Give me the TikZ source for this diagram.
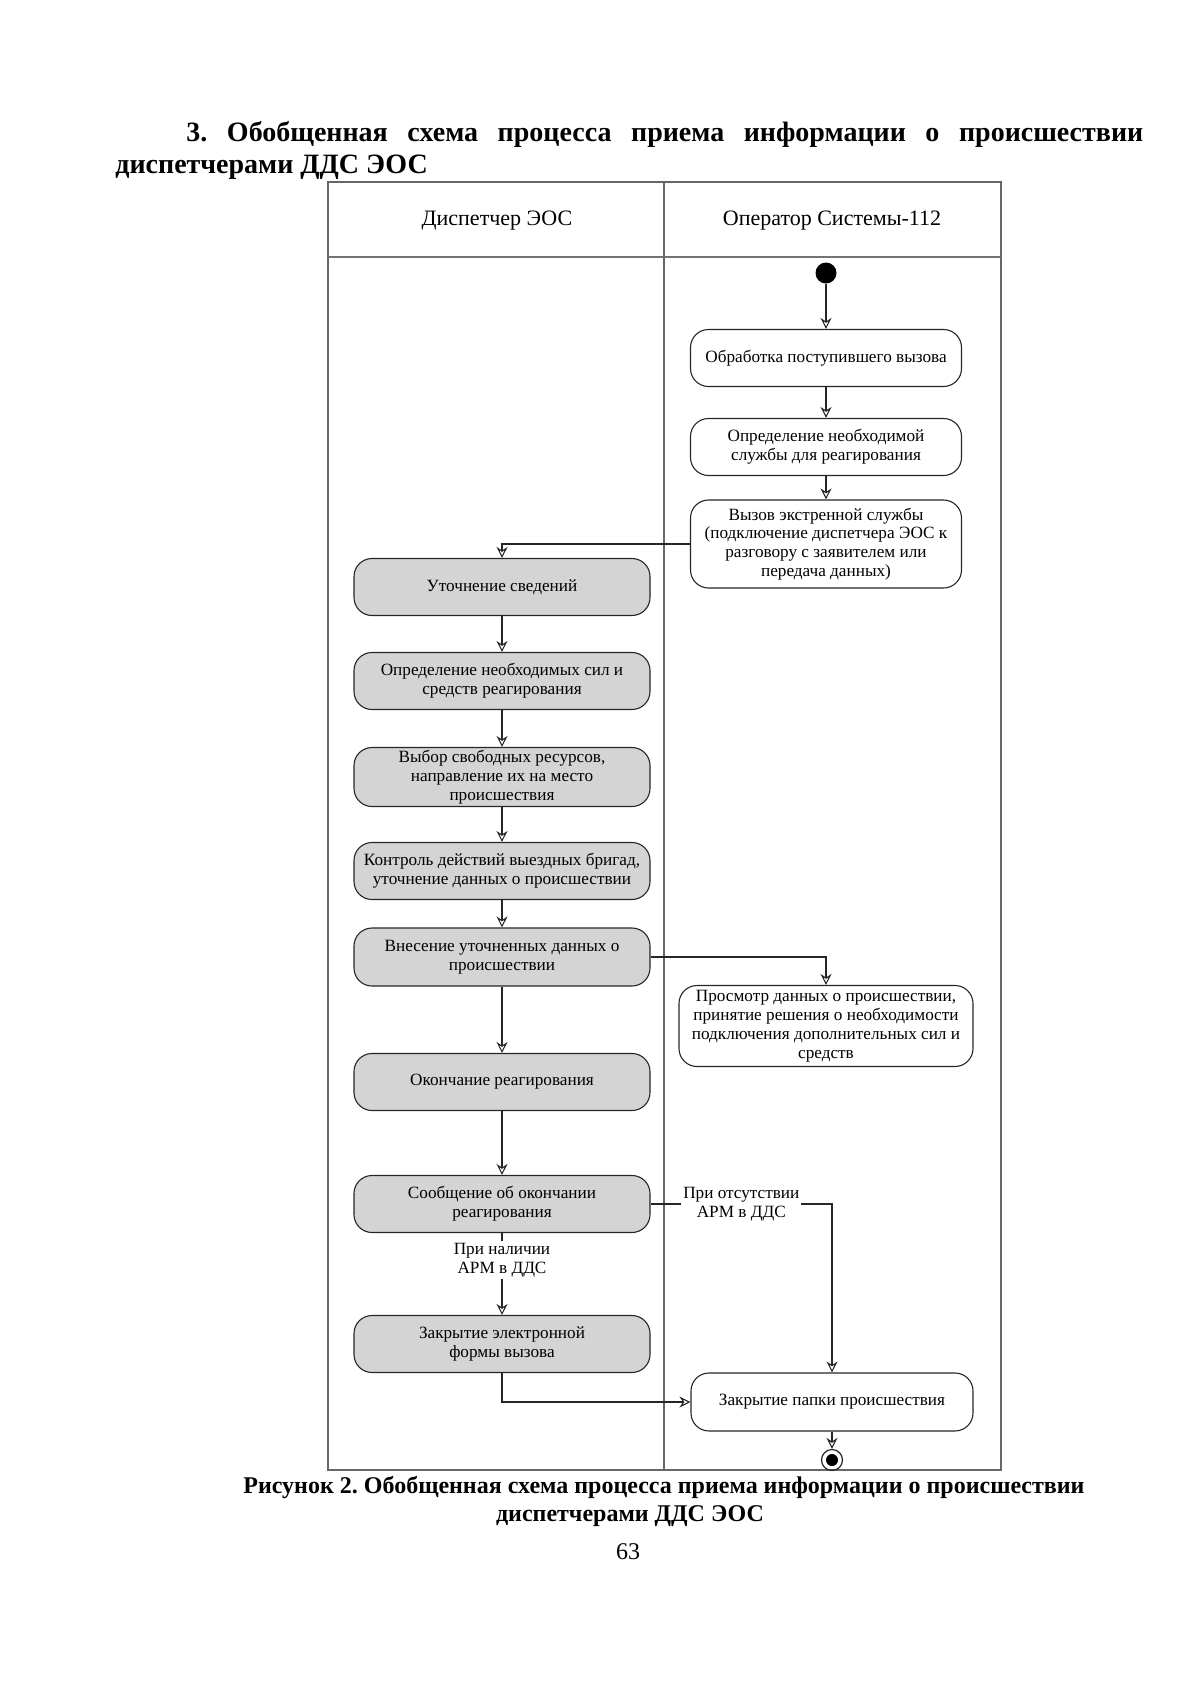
\documentclass[tikz,border=0pt]{standalone}
\usepackage{fontspec}
\setmainfont{Liberation Serif}
\usetikzlibrary{arrows.meta}
\frenchspacing
\begin{document}
\begin{tikzpicture}[x=0.5pt,y=-0.5pt,
  act/.style={draw=black!85, line width=0.55pt, rounded corners=9pt, align=center,
    inner sep=1pt, font=\fontsize{8.6}{9.4}\selectfont},
  actg/.style={act, fill=black!17},
  lbl/.style={fill=white, align=center, inner sep=1pt, font=\fontsize{8.6}{9.4}\selectfont},
  conn/.style={draw=black!85, line width=0.55pt, -{Stealth[open,length=5.5pt,width=5.5pt,inset=1.8pt]}},
  lane/.style={draw=black!60, line width=0.8pt},
  hdr/.style={font=\fontsize{11}{13}\selectfont}
]
\useasboundingbox (0,0) rectangle (1200,1698);
% title
\node[anchor=base west, inner sep=0, font=\fontsize{14}{16}\selectfont\bfseries] (t1) at (186,141)
  {\makebox[478.5pt][s]{3. Обобщенная схема процесса приема информации о происшествии}};
\node[anchor=base west, inner sep=0, font=\fontsize{14}{16}\selectfont\bfseries] (t2) at (115,173)
  {диспетчерами ДДС ЭОС};
% swimlanes
\draw[lane] (328,182) rectangle (1001,1470);
\draw[lane] (664,182) -- (664,1470);
\draw[draw=black!55, line width=1.4pt] (328,257) -- (1001,257);
\node[hdr] (h1) at (497,221) {Диспетчер ЭОС};
\node[hdr] (h2) at (832,221) {Оператор Системы-112};
% start
\node[circle, fill=black, minimum size=10.5pt, inner sep=0] (start) at (826,273) {};
% right lane
\node[act, minimum width=135.5pt, minimum height=28.5pt] (n1) at (826,358) {Обработка поступившего вызова};
\node[act, minimum width=135.5pt, minimum height=28.5pt] (n2) at (826,447) {Определение необходимой\\службы для реагирования};
\node[act, minimum width=135.5pt, minimum height=44pt] (n3) at (826,544) {Вызов экстренной службы\\(подключение диспетчера ЭОС к\\разговору с заявителем или\\передача данных)};
\node[act, minimum width=147pt, minimum height=40.5pt] (r4) at (826,1026) {Просмотр данных о происшествии,\\принятие решения о необходимости\\подключения дополнительных сил и\\средств};
\node[act, minimum width=141pt, minimum height=29pt] (r5) at (832,1402) {Закрытие папки происшествия};
% end
\node[circle, draw=black!85, line width=0.6pt, minimum size=10.5pt, inner sep=0] (end) at (832,1460) {};
\node[circle, fill=black, minimum size=6pt, inner sep=0] (endin) at (end.center) {};
% left lane
\node[actg, minimum width=148pt, minimum height=28.5pt] (l1) at (502,587) {Уточнение сведений};
\node[actg, minimum width=148pt, minimum height=28.5pt] (l2) at (502,681) {Определение необходимых сил и\\средств реагирования};
\node[actg, minimum width=148pt, minimum height=29.5pt] (l3) at (502,777) {Выбор свободных ресурсов,\\направление их на место\\происшествия};
\node[actg, minimum width=148pt, minimum height=28.5pt] (l4) at (502,871) {Контроль действий выездных бригад,\\уточнение данных о происшествии};
\node[actg, minimum width=148pt, minimum height=29pt] (l5) at (502,957) {Внесение уточненных данных о\\происшествии};
\node[actg, minimum width=148pt, minimum height=28.5pt] (l6) at (502,1082) {Окончание реагирования};
\node[actg, minimum width=148pt, minimum height=28.5pt] (l7) at (502,1204) {Сообщение об окончании\\реагирования};
\node[actg, minimum width=148pt, minimum height=28.5pt] (l8) at (502,1344) {Закрытие электронной\\формы вызова};
% connectors
\draw[conn] (start) -- (n1);
\draw[conn] (n1) -- (n2);
\draw[conn] (n2) -- (n3);
\draw[conn] (n3.west) -| (l1.north);
\draw[conn] (l1) -- (l2);
\draw[conn] (l2) -- (l3);
\draw[conn] (l3) -- (l4);
\draw[conn] (l4) -- (l5);
\draw[conn] (l5) -- (l6);
\draw[conn] (l6) -- (l7);
\draw[conn] (l5.east) -| (r4.north);
\draw[conn] (l7.east) -| node[lbl, pos=0.25] (lb1) {При отсутствии\\АРМ в ДДС} (r5.north);
\draw[conn] (l7.south) -- node[lbl, pos=0.33] (lb2) {При наличии\\АРМ в ДДС} (l8.north);
\draw[conn] (l8.south) |- (r5.west);
\draw[conn] (r5.south) -- (end.north);
% caption
\node[anchor=base, inner sep=0, font=\fontsize{12}{14}\selectfont\bfseries] (c1) at (664,1493)
  {Рисунок 2. Обобщенная схема процесса приема информации о происшествии};
\node[anchor=base, inner sep=0, font=\fontsize{12}{14}\selectfont\bfseries] (c2) at (630,1521)
  {диспетчерами ДДС ЭОС};
\node[anchor=base, inner sep=0, font=\fontsize{12}{14}\selectfont] (pg) at (628,1559) {63};
\end{tikzpicture}
\end{document}
